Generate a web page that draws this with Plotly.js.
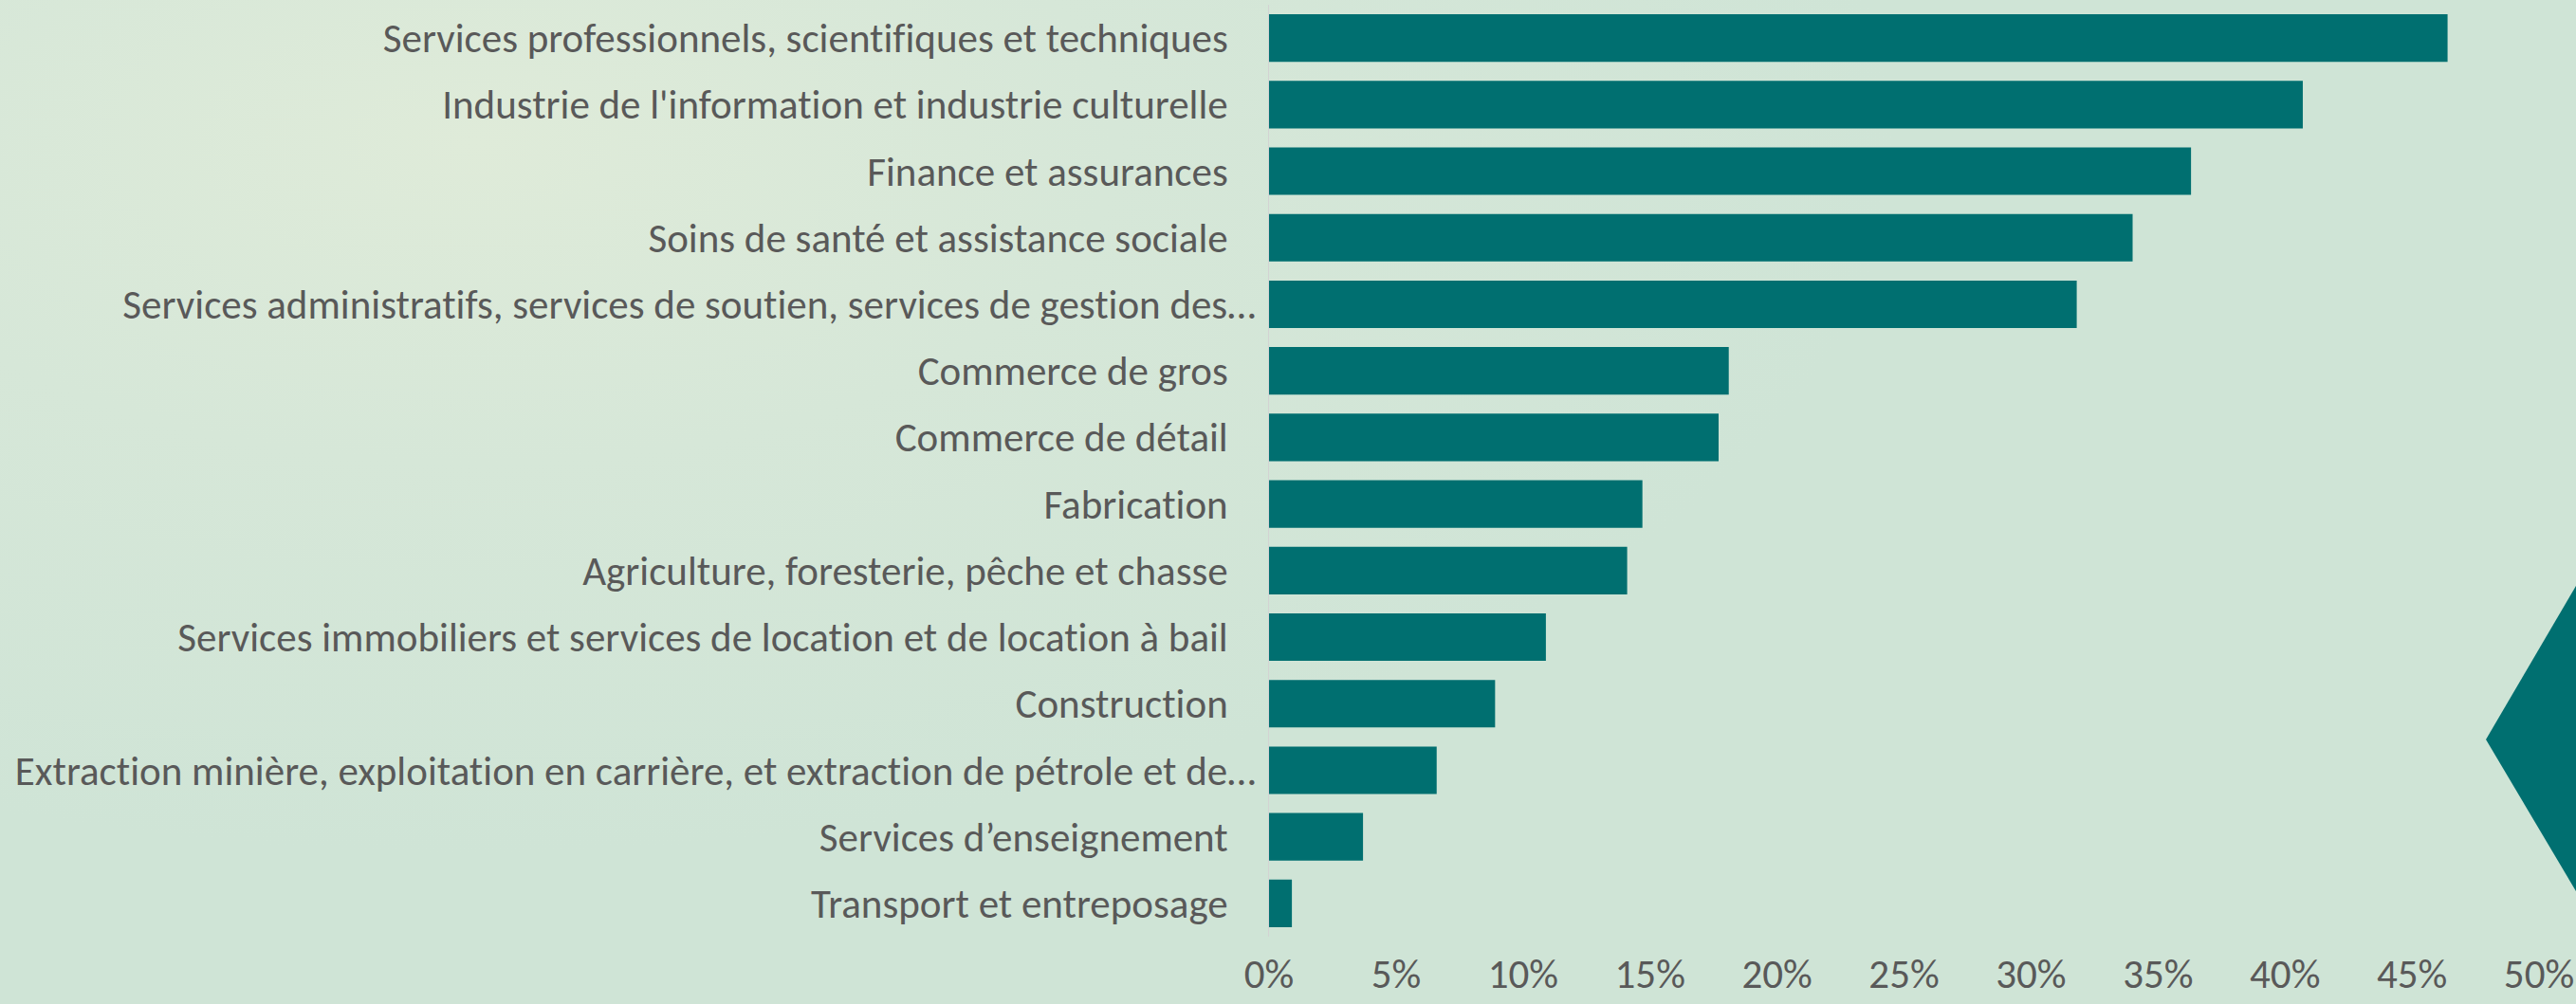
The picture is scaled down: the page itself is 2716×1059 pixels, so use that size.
<!DOCTYPE html>
<html>
<head>
<meta charset="utf-8">
<script src="https://cdn.plot.ly/plotly-3.0.1.min.js"></script>
<style>
  html, body { margin: 0; padding: 0; }
  body {
    width: 2716px; height: 1059px; overflow: hidden;
    background: radial-gradient(ellipse 1500px 750px at 500px 150px, #dfebd9 0%, #d6e7d8 45%, #cfe4d6 100%);
  }
  #chart { width: 2716px; height: 1059px; }
  #chart text, #chart svg {
    font-variant-ligatures: none !important;
    font-feature-settings: "liga" 0, "clig" 0, "dlig" 0 !important;
  }
</style>
</head>
<body>
<div id="chart"></div>
<script>
// Categories, top to bottom as shown
const categories = [
  "Services professionnels, scientifiques et techniques",
  "Industrie de l'information et industrie culturelle",
  "Finance et assurances",
  "Soins de santé et assistance sociale",
  "Services administratifs, services de soutien, services de gestion des…",
  "Commerce de gros",
  "Commerce de détail",
  "Fabrication",
  "Agriculture, foresterie, pêche et chasse",
  "Services immobiliers et services de location et de location à bail",
  "Construction",
  "Extraction minière, exploitation en carrière, et extraction de pétrole et de…",
  "Services d’enseignement",
  "Transport et entreposage"
];
// Share (%)
const values = [46.4, 40.7, 36.3, 34.0, 31.8, 18.1, 17.7, 14.7, 14.1, 10.9, 8.9, 6.6, 3.7, 0.9];
const xTickVals = [0, 5, 10, 15, 20, 25, 30, 35, 40, 45, 50];
const xTickText = ["0%", "5%", "10%", "15%", "20%", "25%", "30%", "35%", "40%", "45%", "50%"];

const FONT = "Carlito, 'Liberation Sans Narrow', 'Arial Narrow', 'Open Sans', sans-serif";
const TEXT = "#595959";
const TEAL = "#006F70";
const FS = 43;

// Labels that are not truncated carry a small trailing pad, as in the original
const yTickText = categories.map(c => c.endsWith("…") ? c : c + "\u00a0\u00a0\u00a0");

const trace = {
  type: "bar",
  orientation: "h",
  y: categories,
  x: values,
  marker: { color: TEAL, line: { width: 0 } },
  hoverinfo: "x+y"
};

const layout = {
  width: 2716,
  height: 1059,
  paper_bgcolor: "rgba(0,0,0,0)",
  plot_bgcolor: "rgba(0,0,0,0)",
  margin: { l: 1338, r: 39, t: 5, b: 71 },
  bargap: 0.286,
  showlegend: false,
  font: { family: FONT, color: TEXT, size: FS },
  xaxis: {
    range: [0, 50],
    tickvals: xTickVals,
    ticktext: xTickText,
    showgrid: false,
    zeroline: false,
    showline: false,
    ticks: "",
    ticklabelstandoff: 10,
    tickfont: { family: FONT, color: TEXT, size: FS },
    fixedrange: true
  },
  yaxis: {
    type: "category",
    categoryorder: "array",
    categoryarray: categories,
    tickvals: categories,
    ticktext: yTickText,
    range: [13.5, -0.5],
    showgrid: false,
    zeroline: false,
    showline: true,
    linecolor: "#d3d3d3",
    linewidth: 1.5,
    ticks: "",
    ticklabelstandoff: 4,
    tickfont: { family: FONT, color: TEXT, size: FS },
    fixedrange: true
  },
  shapes: [
    {
      type: "path",
      xref: "paper", yref: "paper",
      path: "M 1.06 0.3764 L 1.0291 0.3764 L 0.9582 0.2116 L 1.0291 0.0488 L 1.06 0.0488 Z",
      fillcolor: TEAL,
      line: { width: 0 },
      layer: "below"
    }
  ]
};

Plotly.newPlot("chart", [trace], layout, { displayModeBar: false, staticPlot: true }).then(gd => {
  gd.querySelectorAll("text").forEach(t => {
    t.style.fontVariantLigatures = "none";
    t.style.fontFeatureSettings = '"liga" 0, "clig" 0';
  });
});
</script>
</body>
</html>
